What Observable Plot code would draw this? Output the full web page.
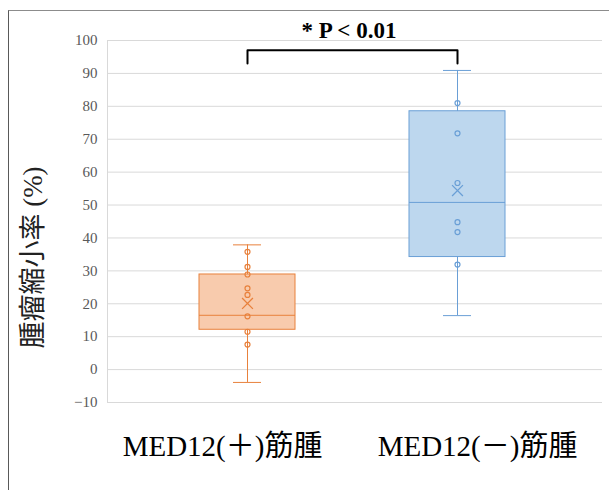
<!DOCTYPE html>
<html>
<head>
<meta charset="utf-8">
<script src="https://cdn.jsdelivr.net/npm/d3@7"></script>
<script src="https://cdn.jsdelivr.net/npm/@observablehq/plot@0.6"></script>
<style>
html, body { margin: 0; padding: 0; background: #fff; }
#wrap { position: relative; width: 609px; height: 490px; overflow: hidden; background: #fff; }
#border { position: absolute; left: 8px; top: 10px; width: 620px; height: 500px;
  border-top: 1.5px solid #8c8c8c; border-left: 1.5px solid #595959; pointer-events: none; z-index: 2; }
#wrap svg { position: absolute; left: 0; top: 0; }
</style>
</head>
<body>
<div id="wrap"><div id="border"></div></div>
<script>
// ---- data ----
const categories = ["MED12(＋)筋腫", "MED12(－)筋腫"];
const whiskerLow  = [-3.9, 16.4];
const quartile1   = [12.1, 34.2];
const medians     = [16.5, 50.8];
const quartile3   = [28.9, 78.5];
const whiskerHigh = [37.9, 90.9];
const means       = [20.1, 54.4];
const pointsPlus  = [35.8, 31.2, 28.9, 24.7, 22.7, 16.2, 11.5, 7.6];
const pointsMinus = [81.0, 71.8, 56.7, 44.8, 41.8, 31.9];
const yTicks = [-10, 0, 10, 20, 30, 40, 50, 60, 70, 80, 90, 100];
const bracketLevels = [93, 97];
const titleText = "* P < 0.01";
const yLabel = "腫瘤縮小率 (%)";

// ---- styles ----
const fills   = ["#F8CBAD", "#BDD7EE"];
const strokes = ["#E8813C", "#6A9FD6"];
const labelShift = [-25, 20];
const serif = "'Times New Roman', 'Liberation Serif', serif";
const mixed = "'Times New Roman', 'Liberation Serif', 'Noto Sans CJK JP', sans-serif";

const boxes = categories.map((c, i) => ({
  category: c, lo: whiskerLow[i], q1: quartile1[i], median: medians[i],
  q3: quartile3[i], hi: whiskerHigh[i], mean: means[i],
  fill: fills[i], stroke: strokes[i]
}));
const points = [
  ...pointsPlus.map(v => ({category: categories[0], value: v, stroke: strokes[0]})),
  ...pointsMinus.map(v => ({category: categories[1], value: v, stroke: strokes[1]}))
];
const bracket = [
  {category: categories[0], value: bracketLevels[0]},
  {category: categories[0], value: bracketLevels[1]},
  {category: categories[1], value: bracketLevels[1]},
  {category: categories[1], value: bracketLevels[0]}
];

const chart = Plot.plot({
  width: 609, height: 490,
  marginLeft: 107, marginRight: 7, marginTop: 40, marginBottom: 88,
  style: {background: "transparent", overflow: "visible"},
  x: {type: "band", domain: categories, paddingInner: 0.543, paddingOuter: 0.45, align: 0.485, axis: null},
  y: {domain: [-10, 100], axis: null},
  marks: [
    Plot.ruleY(yTicks, {stroke: "#D9D9D9", strokeWidth: 1}),
    Plot.frame({anchor: "left", stroke: "#D9D9D9"}),
    Plot.axisY(yTicks, {tickSize: 0, tickPadding: 10, fontSize: 15, fill: "#595959", fontFamily: serif, label: null}),
    Plot.ruleX(boxes, {x: "category", y1: "lo", y2: "hi", stroke: "stroke", strokeWidth: 1}),
    Plot.tickY(boxes, {x: "category", y: "lo", stroke: "stroke", insetLeft: 34, insetRight: 34}),
    Plot.tickY(boxes, {x: "category", y: "hi", stroke: "stroke", insetLeft: 34, insetRight: 34}),
    Plot.barY(boxes, {x: "category", y1: "q1", y2: "q3", fill: "fill", stroke: "stroke", strokeWidth: 1}),
    Plot.tickY(boxes, {x: "category", y: "median", stroke: "stroke", strokeWidth: 1}),
    Plot.dot(points, {x: "category", y: "value", r: 2.5, stroke: "stroke", fill: "none", strokeWidth: 1.2}),
    Plot.dot(boxes, {x: "category", y: "mean", symbol: "times", r: 5, stroke: "stroke", strokeWidth: 1.3}),
    Plot.line(bracket, {x: "category", y: "value", stroke: "black", strokeWidth: 2}),
    Plot.text([titleText], {frameAnchor: "top", lineAnchor: "bottom", dy: -3, dx: -6,
      fontSize: 23, fontWeight: "bold", fontFamily: serif, fill: "black"}),
    ...categories.map((c, i) => Plot.text([c], {x: d => d, frameAnchor: "bottom", lineAnchor: "bottom",
      dy: 53, dx: labelShift[i], fontSize: 29, fontFamily: mixed, fill: "black"})),
    Plot.text([yLabel], {frameAnchor: "left", textAnchor: "middle", rotate: -90, dx: -74, dy: 36, lineAnchor: "middle",
      fontSize: 27, fontFamily: mixed, fill: "#222"})
  ]
});
document.getElementById("wrap").appendChild(chart);
</script>
</body>
</html>
